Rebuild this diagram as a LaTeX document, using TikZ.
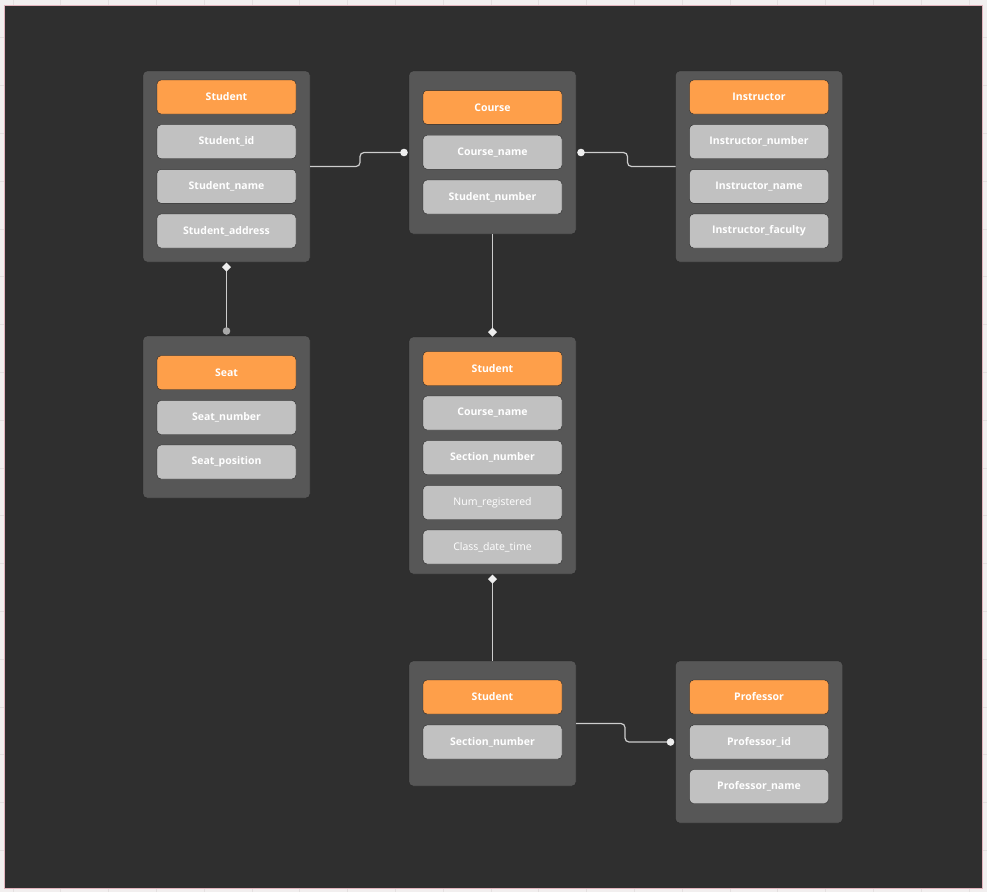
\documentclass[tikz,border=0pt]{standalone}
\usepackage{fontspec}
\setmainfont{Open Sans}
\usetikzlibrary{calc}
\definecolor{paper}{HTML}{F2EFEF}
\definecolor{gridc}{HTML}{E4E0E0}
\definecolor{panel}{HTML}{2F2F2F}
\definecolor{panelrim}{HTML}{E2B4BD}
\definecolor{tabfill}{HTML}{575757}
\definecolor{rim}{HTML}{262626}
\definecolor{headfill}{HTML}{FE9F4A}
\definecolor{rowfill}{HTML}{C1C1C1}
\definecolor{linkc}{HTML}{CDCDCD}
\definecolor{tipc}{HTML}{EEEEEE}
\definecolor{knob}{HTML}{A9A9A9}
\tikzset{
  tab/.style={draw=rim,fill=tabfill,rounded corners=4pt,minimum width=167pt,inner sep=0pt,outer sep=0pt},
  head/.style={draw=rim,fill=headfill,rounded corners=4pt,minimum width=139pt,minimum height=34pt,
    inner sep=0pt,text=white,font=\fontsize{10.5}{12}\selectfont\bfseries},
  attr/.style={head,fill=rowfill},
  plain/.style={attr,font=\fontsize{10.5}{12}\selectfont},
  link/.style={draw=linkc,line width=1.2pt,rounded corners=4pt}
}
\newcommand{\dia}[1]{\fill[tipc] (#1) +(0,-4.5) -- +(4.5,0) -- +(0,4.5) -- +(-4.5,0) -- cycle;}
\newcommand{\knobc}[2]{\fill[#2] (#1) circle (3.8);}

\begin{document}
\begin{tikzpicture}[x=1pt,y=-1pt]
\fill[paper] (0,0) rectangle (987,892);
\useasboundingbox (0,0) rectangle (987,892);
\foreach \gx in {12.7,60.5,108.3,156.1,203.9,251.7,299.5,347.3,395.1,442.9,490.7,538.5,586.3,634.1,681.9,729.7,777.5,825.3,873.1,920.9,968.7}
  \draw[gridc] (\gx,0) -- (\gx,892);
\foreach \gy in {37.5,85.3,133.1,180.9,228.7,276.5,324.3,372.1,419.9,467.7,515.5,563.3,611.1,658.9,706.7,754.5,802.3,850.1}
  \draw[gridc] (0,\gy) -- (987,\gy);
\draw[panelrim,fill=panel] (4,5) rectangle (982,888);
%student
\node[tab,minimum height=191pt] (stu) at (226.5,166.5) {};
\node[head] (stuh) at (226.5,97) {Student};
\node[attr] (stua) at (226.5,141.7) {Student\_id};
\node[attr] (stub) at (226.5,186.3) {Student\_name};
\node[attr] (stuc) at (226.5,231) {Student\_address};
%course
\node[tab,minimum height=163pt] (course) at (492.5,152.5) {};
\node[head] (courseh) at (492.5,107.3) {Course};
\node[attr] (coursea) at (492.5,152.2) {Course\_name};
\node[attr] (courseb) at (492.5,197) {Student\_number};
%instructor
\node[tab,minimum height=191pt] (instr) at (759,166.5) {};
\node[head] (instrh) at (759,97) {Instructor};
\node[attr] (instra) at (759,141.7) {Instructor\_number};
\node[attr] (instrb) at (759,186.3) {Instructor\_name};
\node[attr] (instrc) at (759,231) {Instructor\_faculty};
%seat
\node[tab,minimum height=162pt] (seat) at (226.5,417) {};
\node[head] (seath) at (226.5,372.7) {Seat};
\node[attr] (seata) at (226.5,417.5) {Seat\_number};
\node[attr] (seatb) at (226.5,462) {Seat\_position};
%student with sections
\node[tab,minimum height=237pt] (sect) at (492.5,455.5) {};
\node[head] (secth) at (492.5,368.5) {Student};
\node[attr] (secta) at (492.5,413) {Course\_name};
\node[attr] (sectb) at (492.5,457.7) {Section\_number};
\node[plain] (sectc) at (492.5,502.5) {Num\_registered};
\node[plain] (sectd) at (492.5,547) {Class\_date\_time};
%student, section only
\node[tab,minimum height=125pt] (enrol) at (492.5,723.5) {};
\node[head] (enrolh) at (492.5,697) {Student};
\node[attr] (enrola) at (492.5,742) {Section\_number};
%professor
\node[tab,minimum height=162pt] (prof) at (759,742) {};
\node[head] (profh) at (759,697) {Professor};
\node[attr] (profa) at (759,742) {Professor\_id};
\node[attr] (profb) at (759,786.5) {Professor\_name};
%links
\coordinate (cl) at ([xshift=-5pt]course.west);
\coordinate (cr) at ([xshift=5pt]course.east);
\coordinate (pl) at ([xshift=-5pt]prof.west);
\coordinate (sb) at ([yshift=-5pt]stu.south);
\coordinate (st) at ([yshift=5pt]seat.north);
\coordinate (xt) at ([yshift=5pt]sect.north);
\coordinate (xb) at ([yshift=-5pt]sect.south);
\draw[link] (stu.east) -- ++(50,0) |- (cl);
\draw[link] (instr.west) -- ++(-48,0) |- (cr);
\draw[link] (enrol.east) -- ++(49,0) |- (pl);
\draw[link] (sb) -- (st);
\draw[link] (course.south) -- (xt);
\draw[link] (xb) -- (enrol.north);
\knobc{cl}{tipc}
\knobc{cr}{tipc}
\knobc{pl}{tipc}
\knobc{st}{knob}
\dia{sb}
\dia{xt}
\dia{xb}
\end{tikzpicture}
\end{document}
